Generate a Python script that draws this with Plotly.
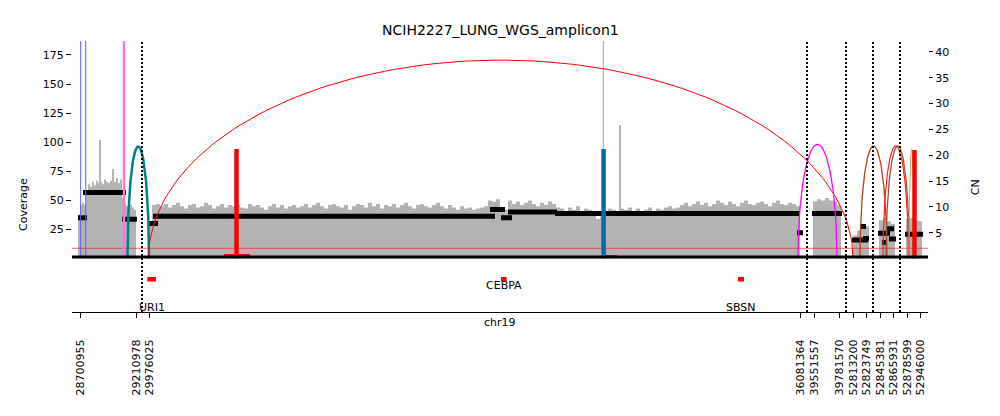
import numpy as np
import plotly.graph_objects as go

title = "NCIH2227_LUNG_WGS_amplicon1"

# x is in plot units: the amplicon intervals are drawn side by side
tick_pos = [80.7, 136, 149.3, 800, 814.3, 839.3, 853.3, 866.7, 880, 893.7, 907.3, 920]
tick_text = ["28700955", "29210978", "29976025", "36081364", "39551557", "39781570",
             "52813200", "52823749", "52845381", "52865931", "52878599", "52946000"]
interval_breaks = [142, 807, 846, 873, 900]

# read coverage, binned (start, bin width, values)
cov_starts = [78, 148, 813, 853, 879, 906]
cov_steps = [2, 4, 4, 4, 4, 4]
cov_r1 = [38, 46, 48, 46, 58, 64, 62, 66, 63, 67, 65, 66, 64, 68, 66, 65, 67, 70, 66, 69,
          65, 68, 52, 48, 45, 49, 46, 44, 42]
cov_r2 = [30, 46, 47,
          45, 47, 44, 46, 48, 45, 43, 46, 47, 44, 45, 48, 46, 43, 45, 47, 44, 46, 45,
          46, 44, 43, 47, 45, 46, 44, 42, 45, 47, 44, 46, 43, 45, 46, 44,
          45, 47, 44, 46, 48, 45, 43, 46, 47, 45, 44, 46, 42, 45, 47,
          46, 44, 48, 45, 47, 43, 46, 45, 47, 44, 46, 48, 45, 43, 46,
          47, 45, 44, 46, 48, 45, 43, 46, 44, 42, 45, 43, 44, 42, 43, 44, 45,
          50, 49, 51, 44, 42,
          50, 47, 49, 46, 48, 50, 47, 45, 48, 46, 49, 47, 44,
          43, 41, 44, 42, 45, 41, 43, 42, 40, 34,
          36,
          41, 43, 42, 40, 43, 42, 44, 41, 43, 40, 42, 44, 41, 43, 42, 44, 45, 43, 44,
          46, 48, 45, 47, 49, 46, 48, 45, 47, 50, 48, 46, 49, 47, 45, 48, 50, 47, 46, 48,
          49, 47, 45, 48, 50, 47, 46, 48, 47, 45]
cov_r3 = [49, 51, 50, 52, 50, 49, 46]
cov_r4 = [20, 24, 30, 28]
cov_r5 = [33, 35, 32, 30]
cov_r6 = [34, 35, 33, 32]
cov_regions = [cov_r1, cov_r2, cov_r3, cov_r4, cov_r5, cov_r6]

spike_x = [100.5, 113, 620]
spike_cov = [102, 77, 115]

# copy number segments
seg_x0 = [78, 83, 122, 148, 153, 490, 501, 508, 555, 797, 812, 852, 860, 863, 878, 887, 882, 889, 905]
seg_x1 = [87, 126, 137, 158, 495, 505, 512, 557, 800, 803, 842, 868, 866, 869, 890, 894, 887, 896, 923]
seg_cn = [7.9, 12.8, 7.6, 6.8, 8.2, 9.5, 7.9, 9.0, 8.75, 5.0, 8.75, 3.6, 6.2, 3.9, 4.9, 5.8, 3.1, 3.8, 4.7]

# breakpoint edges drawn as arcs
arc_x0 = [127.5, 148.5, 798, 860, 883, 886, 909]
arc_x1 = [149, 853, 837, 887, 908.5, 909.5, 914.5]
arc_h = [21.7, 38.4, 22.1, 21.8, 21.8, 21.8, 21.2]
arc_color = ["#008080", "#ff0000", "#ff00ff", "#b5400f", "#ff2020", "#a0522d", "#d2a060"]
arc_width = [2.5, 1, 1.3, 1.3, 1.2, 1.3, 1]

# edges leaving the amplicon (full height lines)
vline_x = [80.7, 85.7, 124, 603.3]
vline_color = ["#5c5cff", "#5c5cff", "#ee77ee", "#9494ff"]
vline_width = [1, 1, 2.5, 1]

# foldback / short edges drawn as thick bars
bar_x = [236.5, 603.6, 914.5]
bar_top = [21.2, 21.2, 21.0]
bar_color = ["#ff0000", "#0868a8", "#ff0000"]
foot_x0 = [224, 604]
foot_x1 = [250, 617]
foot_cn = [0.6, 0.4]
foot_color = ["#ff0000", "#006868"]

ploidy = 2

genes = ["URI1", "CEBPA", "SBSN"]
gene_x0 = [147.3, 501, 738]
gene_x1 = [156, 506.7, 744]
gene_label_y = [0.09, 0.52, 0.09]

CN_MAX = 42.1
COV_MAX = 187

fig = go.Figure()

# coverage
for start, step, vals in zip(cov_starts, cov_steps, cov_regions):
    xs = [start + step * i for i in range(len(vals) + 1)]
    fig.add_trace(go.Scatter(x=xs, y=vals + [vals[-1]], mode="lines",
                             line=dict(width=0, shape="hv"), fill="tozeroy",
                             fillcolor="#b3b3b3", yaxis="y", hoverinfo="skip"))
fig.add_trace(go.Bar(x=spike_x, y=spike_cov, width=1.2, marker=dict(color="#b3b3b3", line=dict(width=0)),
                     yaxis="y", hoverinfo="skip"))

# ploidy line
fig.add_trace(go.Scatter(x=[72, 928], y=[ploidy, ploidy], mode="lines",
                         line=dict(color="rgba(255,0,0,0.6)", width=1), yaxis="y2"))

# segments
sx, sy = [], []
for a, b, c in zip(seg_x0, seg_x1, seg_cn):
    sx += [a, b, None]
    sy += [c, c, None]
fig.add_trace(go.Scatter(x=sx, y=sy, mode="lines", line=dict(color="black", width=5), yaxis="y2"))

# vertical edge lines
for x, col, w in zip(vline_x, vline_color, vline_width):
    fig.add_trace(go.Scatter(x=[x, x], y=[0, CN_MAX], mode="lines",
                             line=dict(color=col, width=w), yaxis="y2"))

# arcs
t = np.linspace(0, np.pi, 120)
for a, b, h, col, w in zip(arc_x0, arc_x1, arc_h, arc_color, arc_width):
    c = (a + b) / 2
    r = (b - a) / 2
    fig.add_trace(go.Scatter(x=c + r * np.cos(t), y=h * np.sin(t), mode="lines",
                             line=dict(color=col, width=w), yaxis="y2"))

# thick bars
for x0, x1, c, col in zip(foot_x0, foot_x1, foot_cn, foot_color):
    fig.add_trace(go.Scatter(x=[x0, x1], y=[c, c], mode="lines",
                             line=dict(color=col, width=3), yaxis="y2"))
for x, top, col in zip(bar_x, bar_top, bar_color):
    fig.add_trace(go.Scatter(x=[x, x], y=[0, top], mode="lines",
                             line=dict(color=col, width=4.5), yaxis="y2"))

shapes = []
for xb in interval_breaks:
    shapes.append(dict(type="line", xref="x", yref="paper", x0=xb, x1=xb, y0=0, y1=1,
                       line=dict(color="black", width=2, dash="2px,2px")))
# baseline of the coverage panel
shapes.append(dict(type="line", xref="paper", yref="paper", x0=0, x1=1, y0=0.203, y1=0.203,
                   line=dict(color="black", width=3)))

annotations = []
for g, a, b, ly in zip(genes, gene_x0, gene_x1, gene_label_y):
    shapes.append(dict(type="rect", xref="x", yref="y3", x0=a, x1=b, y0=0.59, y1=0.68,
                       fillcolor="red", line=dict(width=0)))
    annotations.append(dict(x=(a + b) / 2, y=ly, xref="x", yref="y3", text=g, showarrow=False,
                            font=dict(size=11)))

annotations += [
    dict(x=0.5, y=1.0406, xref="paper", yref="paper", text=title, showarrow=False,
         font=dict(size=14), yanchor="middle"),
    dict(x=500, y=-0.04, xref="x", yref="paper", text="chr19", showarrow=False, yanchor="middle"),
    dict(x=-0.066, y=0.395, xref="paper", yref="paper", text="Coverage", textangle=-90, showarrow=False),
    dict(x=1.065, y=0.461, xref="paper", yref="paper", text="CN", textangle=-90, showarrow=False),
]

# the page body adds an 8px offset, so margins are shifted to compensate
fig.update_layout(
    width=1000, height=416,
    margin=dict(l=64, r=80, t=33, b=112),
    plot_bgcolor="white", paper_bgcolor="white",
    showlegend=False,
    font=dict(family="DejaVu Sans", size=11, color="black"),
    xaxis=dict(range=[72, 928], anchor="y3", tickvals=tick_pos, ticktext=tick_text, tickangle=-90,
               ticks="outside", ticklen=5, tickcolor="black", showline=True, linecolor="black",
               linewidth=1, showgrid=False, zeroline=False, ticklabelstandoff=17),
    yaxis=dict(domain=[0.197, 1], range=[0, COV_MAX], anchor="x", tickvals=[25, 50, 75, 100, 125, 150, 175],
               ticks="outside", ticklen=5, tickcolor="black", showgrid=False, zeroline=False, showline=False),
    yaxis2=dict(overlaying="y", side="right", range=[0, CN_MAX], anchor="x",
                tickvals=[5, 10, 15, 20, 25, 30, 35, 40], ticks="outside", ticklen=4, tickcolor="black",
                showgrid=False, zeroline=False, showline=False),
    yaxis3=dict(domain=[0, 0.19], range=[0, 1], anchor="x", visible=False),
    shapes=shapes,
    annotations=annotations,
    bargap=0,
)

fig.write_html("out.html")
